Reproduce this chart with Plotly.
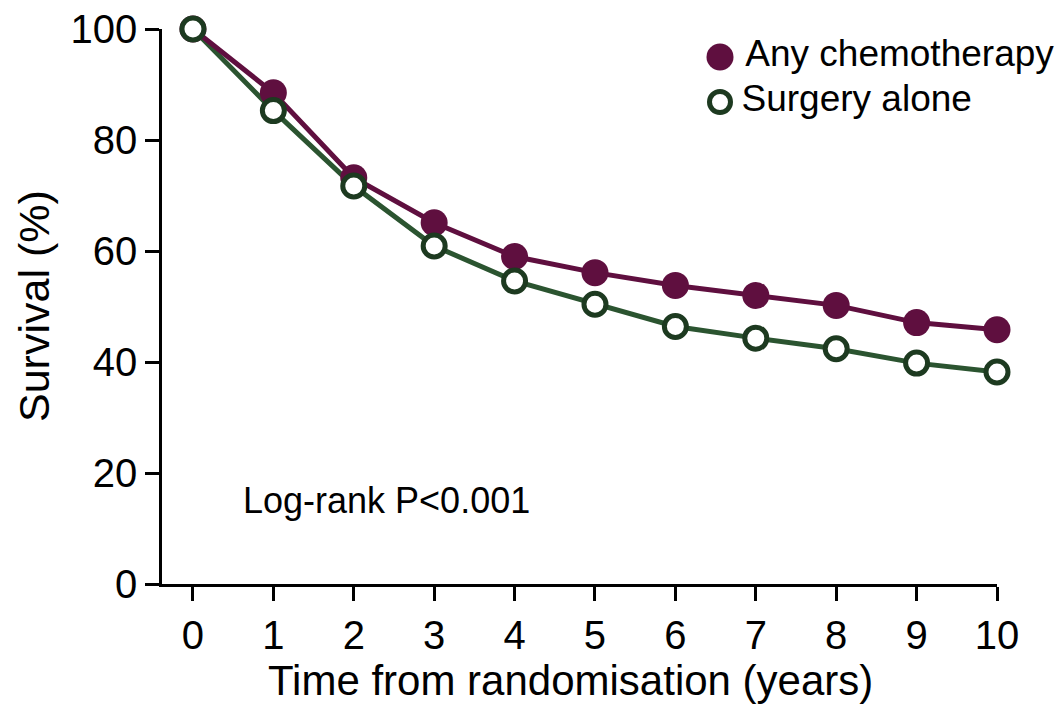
import plotly.graph_objects as go

years = [0, 1, 2, 3, 4, 5, 6, 7, 8, 9, 10]
chemo = [100, 88.5, 73.2, 65.1, 59.0, 56.1, 53.8, 52.0, 50.2, 47.1, 45.8]
surgery = [100, 85.3, 71.7, 60.9, 54.6, 50.4, 46.4, 44.3, 42.4, 39.8, 38.2]
x_ticks = list(range(0, 11))
y_ticks = [0, 20, 40, 60, 80, 100]
series_names = ["Any chemotherapy", "Surgery alone"]

CHEMO_COL = "#5f0f3f"
SURG_LINE = "#2b5430"
SURG_EDGE = "#1d3a20"
FONT = "Liberation Sans, Arial, sans-serif"

W, H = 1056, 705
plot_left, plot_right = 162, 997
plot_top, plot_bottom = 29, 584
pw, ph = plot_right - plot_left, plot_bottom - plot_top


def px_to_paper(px, py):
    return (px - plot_left) / pw, (plot_bottom - py) / ph


fig = go.Figure()

fig.add_trace(go.Scatter(
    x=years, y=surgery, mode="lines", showlegend=False,
    line=dict(color=SURG_LINE, width=5), cliponaxis=False,
))
fig.add_trace(go.Scatter(
    x=years, y=chemo, mode="lines+markers", showlegend=False,
    line=dict(color=CHEMO_COL, width=5),
    marker=dict(symbol="circle", size=27, color=CHEMO_COL, line=dict(width=0)),
    cliponaxis=False,
))
fig.add_trace(go.Scatter(
    x=years, y=surgery, mode="markers", showlegend=False,
    marker=dict(symbol="circle", size=22, color="white",
                line=dict(color=SURG_EDGE, width=5)),
    cliponaxis=False,
))

# key drawn on an overlay axis in paper-like 0..1 units so the symbols keep full size
k1 = px_to_paper(720, 57)
k2 = px_to_paper(720, 102)
for (kx, ky), name, marker in [
    (k1, series_names[0], dict(symbol="circle", size=27, color=CHEMO_COL)),
    (k2, series_names[1], dict(symbol="circle", size=21, color="white",
                               line=dict(color=SURG_EDGE, width=5))),
]:
    fig.add_trace(go.Scatter(
        x=[kx], y=[ky], xaxis="x2", yaxis="y2", mode="markers+text",
        text=["\u2009" + name], textposition="middle right",
        textfont=dict(family=FONT, size=37, color="black"),
        marker=marker, showlegend=False, cliponaxis=False,
    ))

fig.add_annotation(
    x=0.6, y=15, xref="x", yref="y", text="Log-rank P<0.001",
    showarrow=False, xanchor="left", yanchor="middle",
    font=dict(family=FONT, size=36, color="black"),
)

# axis titles
tx, ty = px_to_paper(570, 680)
fig.add_annotation(
    x=tx, y=ty, xref="paper", yref="paper", text="Time from randomisation (years)",
    showarrow=False, xanchor="center", yanchor="middle",
    font=dict(family=FONT, size=42, color="black"),
)
sx, sy = px_to_paper(34, 306)
fig.add_annotation(
    x=sx, y=sy, xref="paper", yref="paper", text="Survival (%)", textangle=-90,
    showarrow=False, xanchor="center", yanchor="middle",
    font=dict(family=FONT, size=43, color="black"),
)

fig.update_xaxes(
    range=[-0.385, 10], tickvals=x_ticks, ticktext=[str(t) for t in x_ticks],
    showline=True, linecolor="black", linewidth=2.5,
    ticks="outside", ticklen=14, tickwidth=2.5, tickcolor="black",
    showgrid=False, zeroline=False, automargin=False,
    tickfont=dict(family=FONT, size=40, color="black"),
)
fig.update_yaxes(
    range=[0, 100], tickvals=y_ticks, ticktext=[str(t) for t in y_ticks],
    showline=True, linecolor="black", linewidth=2.5,
    ticks="outside", ticklen=14, tickwidth=2.5, tickcolor="black",
    showgrid=False, zeroline=False, automargin=False,
    tickfont=dict(family=FONT, size=40, color="black"),
)

fig.update_layout(
    xaxis2=dict(overlaying="x", range=[0, 1], visible=False, fixedrange=True),
    yaxis2=dict(overlaying="y", range=[0, 1], visible=False, fixedrange=True),
    width=W, height=H,
    margin=dict(l=plot_left, r=W - plot_right, t=plot_top, b=H - plot_bottom),
    paper_bgcolor="white", plot_bgcolor="white",
    showlegend=False,
)

fig.write_html("out.html")
